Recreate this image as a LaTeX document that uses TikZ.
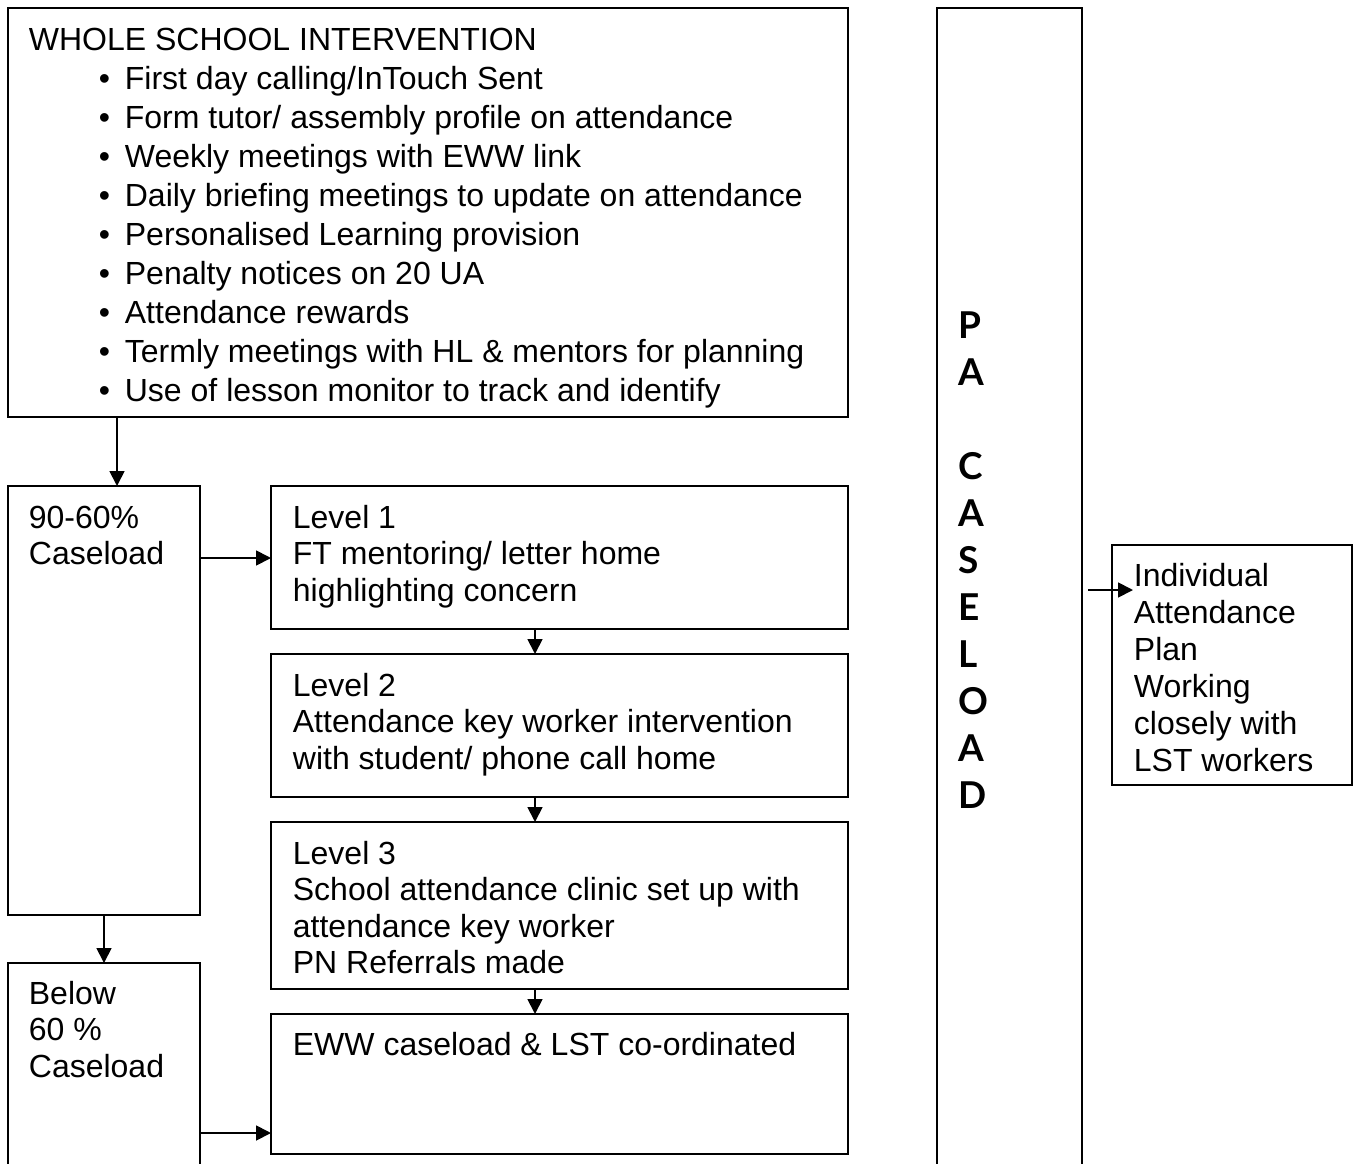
\documentclass[tikz,border=0pt]{standalone}
\usepackage{fontspec}
\setmainfont{Liberation Sans}
\newfontfamily\pafont{Lato}
\usetikzlibrary{graphs,arrows.meta}

\tikzset{
  box/.style={draw, inner sep=0pt, outer sep=0pt, anchor=north west},
  txt/.style={align=left, inner sep=0pt, anchor=base west, font=\fontsize{32}{36.5}\selectfont},
  >={Triangle[length=15pt,width=15pt]}
}
\newcommand{\itm}{\hspace*{70pt}\makebox[26pt][l]{\textbullet}}

\begin{document}
\begin{tikzpicture}[x=1pt, y=-1pt, line width=1.8pt]
  \clip (0,0) rectangle (1357,1164);
  % boxes
  \node[box, minimum width=840pt, minimum height=409pt] (whole) at (8,8) {};
  \node[box, minimum width=145pt, minimum height=1200pt] (pa) at (937,8) {};
  \node[box, minimum width=192pt, minimum height=429pt] (hi) at (8,486) {};
  \node[box, minimum width=192pt, minimum height=260pt] (lo) at (8,963) {};
  \node[box, minimum width=577pt, minimum height=143pt] (l1) at (271,486) {};
  \node[box, minimum width=577pt, minimum height=143pt] (l2) at (271,654) {};
  \node[box, minimum width=577pt, minimum height=167pt] (l3) at (271,822) {};
  \node[box, minimum width=577pt, minimum height=140pt] (eww) at (271,1014) {};
  \node[box, minimum width=240pt, minimum height=240pt] (ind) at (1112,545) {};
  % texts (placed at the baseline of their last line)
  \node[txt, font=\fontsize{32}{39}\selectfont] (whole-txt) at (28,401) {WHOLE SCHOOL INTERVENTION\\
    \itm First day calling/InTouch Sent\\
    \itm Form tutor/ assembly profile on attendance\\
    \itm Weekly meetings with EWW link\\
    \itm Daily briefing meetings to update on attendance\\
    \itm Personalised Learning provision\\
    \itm Penalty notices on 20 UA\\
    \itm Attendance rewards\\
    \itm Termly meetings with HL \& mentors for planning\\
    \itm Use of lesson monitor to track and identify};
  \node[txt, font=\pafont\bfseries\fontsize{37}{47}\selectfont] (pa-txt) at (958,808)
    {P\\A\\[47pt]C\\A\\S\\E\\L\\O\\A\\D};
  \node[txt] (hi-txt) at (28,564.5) {90-60\%\\Caseload};
  \node[txt] (lo-txt) at (28,1077) {Below\\60 \%\\Caseload};
  \node[txt] (l1-txt) at (292,601) {Level 1\\FT mentoring/ letter home\\highlighting concern};
  \node[txt] (l2-txt) at (292,769) {Level 2\\Attendance key worker intervention\\with student/ phone call home};
  \node[txt] (l3-txt) at (292,973.5) {Level 3\\School attendance clinic set up with\\attendance key worker\\PN Referrals made};
  \node[txt] (eww-txt) at (292,1055) {EWW caseload \& LST co-ordinated};
  \node[txt, font=\fontsize{32}{37}\selectfont] (ind-txt) at (1133,771)
    {Individual\\Attendance\\Plan\\Working\\closely with\\LST workers};
  % connector ends
  \coordinate (whole-out) at ([xshift=109pt]whole.south west);
  \coordinate (hi-in) at (whole-out |- hi.north);
  \coordinate (hi-out) at ([yshift=-72pt]hi.north east);
  \coordinate (l1-in) at (hi-out -| l1.west);
  \coordinate (l1-out) at ([xshift=264pt]l1.south west);
  \coordinate (l2-in) at (l1-out |- l2.north);
  \coordinate (l2-out) at (l1-out |- l2.south);
  \coordinate (l3-in) at (l1-out |- l3.north);
  \coordinate (l3-out) at (l1-out |- l3.south);
  \coordinate (eww-in) at (l1-out |- eww.north);
  \coordinate (lo-out) at ([yshift=-170pt]lo.north east);
  \coordinate (eww-side) at (lo-out -| eww.west);
  \coordinate (pa-out) at ([xshift=6pt,yshift=-582pt]pa.north east);
  \coordinate (ind-in) at ([xshift=21pt]pa-out -| ind.west);
  \graph{(whole-out) -> (hi-in)};
  \graph{(hi-out) -> (l1-in)};
  \graph{(l1-out) -> (l2-in)};
  \graph{(l2-out) -> (l3-in)};
  \graph{(l3-out) -> (eww-in)};
  \graph{(hi) -> (lo)};
  \graph{(lo-out) -> (eww-side)};
  \graph{(pa-out) -> (ind-in)};
\end{tikzpicture}
\end{document}
